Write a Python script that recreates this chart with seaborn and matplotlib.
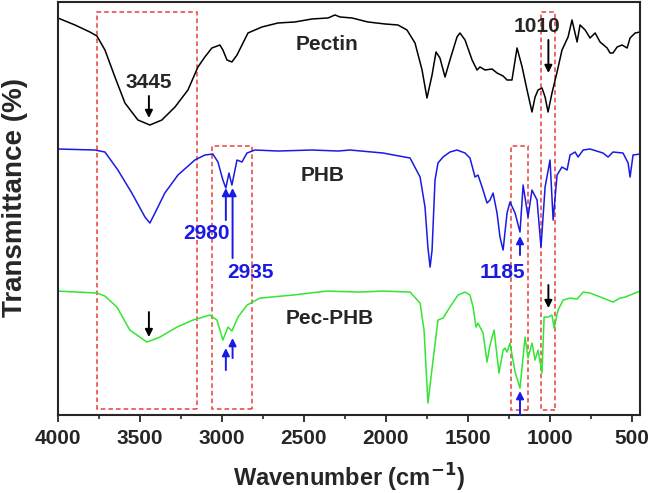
import numpy as np
import pandas as pd
import seaborn as sns
import matplotlib.pyplot as plt
from matplotlib.ticker import MultipleLocator
from matplotlib.patches import Rectangle

# spectra: wavenumber (cm-1), transmittance (a.u., stacked)
pectin_wn = [4000, 3896, 3805, 3762, 3713, 3652, 3591, 3512, 3439, 3366, 3286, 3207, 3146, 3104,
             3061, 3012, 2994, 2969, 2939, 2908, 2841, 2756, 2658, 2555, 2451, 2353, 2311, 2280,
             2207, 2110, 2006, 1927, 1872, 1823, 1780, 1750, 1719, 1695, 1671, 1640, 1610, 1567,
             1549, 1518, 1475, 1445, 1427, 1396, 1353, 1323, 1286, 1262, 1232, 1201, 1170, 1140,
             1110, 1091, 1073, 1049, 1030, 1012, 988, 957, 927, 890, 866, 835, 817, 786, 756,
             725, 695, 652, 634, 616, 591, 561, 530, 512, 481, 451]
pectin_t = [397, 390, 383, 379, 365, 338, 312, 295, 290, 295, 308, 325, 348, 358,
            367, 370, 365, 355, 353, 360, 382, 388, 392, 393, 396, 397, 400, 398,
            397, 393, 391, 390, 385, 372, 345, 317, 340, 363, 357, 338, 355, 378,
            382, 375, 355, 345, 348, 345, 346, 342, 339, 335, 335, 367, 348, 325,
            303, 318, 325, 327, 318, 303, 322, 343, 365, 378, 395, 373, 390, 385, 377,
            382, 373, 367, 362, 362, 368, 370, 367, 377, 382, 383]

phb_wn = [4000, 3774, 3713, 3634, 3549, 3469, 3439, 3408, 3348, 3268, 3165, 3104, 3055, 3024,
          2994, 2976, 2957, 2939, 2908, 2878, 2847, 2799, 2658, 2451, 2293, 2219, 2018, 1853,
          1792, 1762, 1744, 1731, 1719, 1701, 1683, 1652, 1610, 1567, 1518, 1488, 1457, 1439,
          1414, 1384, 1366, 1347, 1323, 1305, 1286, 1262, 1244, 1213, 1183, 1164, 1134, 1110,
          1079, 1055, 1030, 1000, 981, 957, 927, 896, 878, 847, 829, 798, 756, 677, 646, 616,
          555, 524, 512, 494, 451]
phb_t = [266, 265, 263, 245, 222, 198, 192, 202, 222, 240, 255, 260, 261, 253,
         235, 227, 242, 230, 255, 253, 262, 265, 264, 265, 264, 265, 262, 257,
         238, 208, 167, 148, 165, 235, 252, 258, 263, 265, 262, 257, 238, 240,
         228, 212, 215, 222, 202, 178, 165, 202, 213, 202, 183, 230, 198, 225,
         215, 168, 228, 255, 195, 240, 248, 245, 260, 263, 258, 265, 266, 262, 258, 263,
         262, 252, 238, 260, 261]

pecphb_wn = [4000, 3762, 3713, 3640, 3561, 3457, 3378, 3274, 3177, 3073, 3030, 2994, 2963, 2939,
             2902, 2847, 2768, 2567, 2360, 2158, 2018, 1853, 1792, 1768, 1744, 1713, 1683, 1652,
             1610, 1561, 1518, 1488, 1469, 1451, 1439, 1408, 1384, 1366, 1341, 1311, 1286, 1274,
             1262, 1244, 1213, 1183, 1152, 1134, 1110, 1091, 1073, 1049, 1036, 1012, 988, 975,
             951, 920, 878, 835, 798, 756, 677, 616, 573, 542, 512, 451]
pecphb_t = [124, 122, 119, 108, 85, 73, 78, 88, 95, 100, 95, 75, 88, 84,
            98, 110, 117, 120, 124, 123, 124, 123, 112, 85, 12, 55, 95, 97,
            108, 120, 123, 120, 108, 88, 92, 82, 53, 70, 85, 42, 65, 67,
            63, 72, 43, 27, 78, 57, 72, 55, 65, 42, 98, 98, 100, 87,
            105, 115, 117, 116, 123, 122, 117, 113, 117, 118, 120, 124]

names = ["Pectin", "PHB", "Pec-PHB"]
colors = ["black", "#1a1ae6", "#33e633"]

df = pd.concat([
    pd.DataFrame({"wn": pectin_wn, "t": pectin_t, "sample": "Pectin"}),
    pd.DataFrame({"wn": phb_wn, "t": phb_t, "sample": "PHB"}),
    pd.DataFrame({"wn": pecphb_wn, "t": pecphb_t, "sample": "Pec-PHB"}),
])

sns.set_style("ticks")
plt.rcParams["font.family"] = ["Liberation Sans", "DejaVu Sans"]
plt.rcParams["font.weight"] = "bold"

fig, ax = plt.subplots(figsize=(6.5, 4.93), dpi=100)
fig.subplots_adjust(left=0.089, right=0.985, bottom=0.158, top=0.996)

sns.lineplot(data=df, x="wn", y="t", hue="sample", hue_order=names,
             palette=colors, estimator=None, linewidth=1.1, legend=False, ax=ax)

ax.set_xlim(4000, 450)
ax.set_ylim(0, 413)
ax.xaxis.set_major_locator(MultipleLocator(500))
ax.xaxis.set_minor_locator(MultipleLocator(250))
ax.set_yticks([])
ax.tick_params(axis="x", which="major", direction="out", length=5, width=1.3, labelsize=15, pad=5)
ax.tick_params(axis="x", which="minor", direction="out", length=3, width=1.2)
for s in ax.spines.values():
    s.set_linewidth(1.5)
ax.set_xlabel("Wavenumber (cm$^{\\mathbf{-1}}$)", fontsize=17, fontweight="bold", labelpad=10)
ax.set_ylabel("Transmittance (%)", fontsize=20, fontweight="bold")
ax.yaxis.set_label_coords(-0.052, 0.527)

# dashed boxes around the bands of interest
boxes = [(3764, 3154, 6, 403), (3063, 2815, 6, 269), (1238, 1132, 5, 269), (1055, 969, 5, 403)]
for w1, w2, b, t in boxes:
    ax.add_patch(Rectangle((w2, b), w1 - w2, t - b, fill=False, ec="#e8403a",
                           ls=(0, (3, 2)), lw=1.1))

# curve names
ax.text(2360, 370, "Pectin", fontsize=15, fontweight="bold", ha="center", va="center")
ax.text(2384, 240, "PHB", fontsize=15, fontweight="bold", ha="center", va="center")
ax.text(2341, 97, "Pec-PHB", fontsize=15, fontweight="bold", ha="center", va="center")

# arrows: (wavenumber, tail, head, colour)
arrows = [(3445, 319, 297, "black"), (1010, 375, 342, "black"),
          (2976, 195, 227, "#1a1ae6"), (2935, 157, 227, "#1a1ae6"), (1183, 160, 179, "#1a1ae6"),
          (3445, 103, 78, "black"), (2976, 45, 67, "#1a1ae6"), (2935, 57, 77, "#1a1ae6"),
          (1183, 0, 24, "#1a1ae6"), (1010, 130, 107, "black")]
for wn, tail, head, c in arrows:
    ax.annotate("", xy=(wn, head), xytext=(wn, tail),
                arrowprops=dict(arrowstyle="-|>", color=c, lw=1.4, mutation_scale=11,
                                shrinkA=0, shrinkB=0))

ax.text(3445, 332, "3445", fontsize=15, fontweight="bold", ha="center", va="center")
ax.text(1079, 388, "1010", fontsize=15, fontweight="bold", ha="center", va="center")
ax.text(3091, 182, "2980", fontsize=15, fontweight="bold", ha="center", va="center", color="#1a1ae6")
ax.text(2823, 143, "2935", fontsize=15, fontweight="bold", ha="center", va="center", color="#1a1ae6")
ax.text(1292, 143, "1185", fontsize=15, fontweight="bold", ha="center", va="center", color="#1a1ae6")

fig.savefig("out.png", dpi=100)
